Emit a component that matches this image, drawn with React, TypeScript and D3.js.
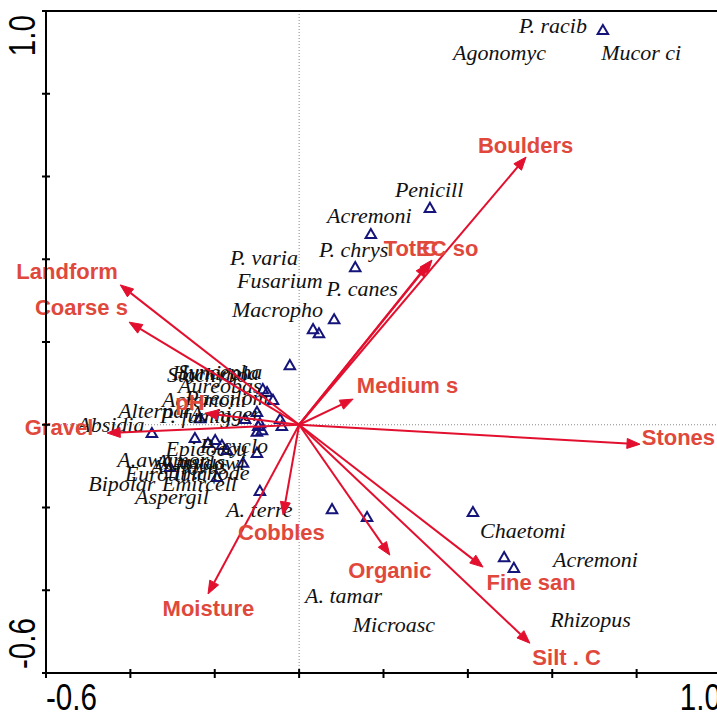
import React from "react";
import * as d3 from "d3";

// ---- Data (CCA biplot scores) ----
const envNames = ["Boulders", "Tot C", "EC so", "Medium s", "Stones", "Fine san", "Silt . C", "Organic", "Cobbles", "Moisture", "Gravel", "pH", "Coarse s", "Landform"];
const envX = [0.538, 0.306, 0.315, 0.128, 0.808, 0.436, 0.547, 0.215, -0.038, -0.216, -0.455, -0.223, -0.403, -0.424];
const envY = [0.647, 0.389, 0.398, 0.062, -0.047, -0.344, -0.528, -0.315, -0.218, -0.409, -0.020, 0.028, 0.248, 0.338];
const envLabelX = [0.537, 0.265, 0.351, 0.257, 0.899, 0.550, 0.634, 0.215, -0.042, -0.215, -0.569, -0.259, -0.516, -0.550];
const envLabelY = [0.676, 0.427, 0.427, 0.096, -0.030, -0.380, -0.561, -0.351, -0.260, -0.443, -0.005, 0.055, 0.285, 0.371];

const speciesX = [0.720, 0.310, 0.170, 0.133, 0.083, 0.033, 0.047, -0.022, 0.412, 0.486, 0.509, 0.078, 0.161, -0.093,
  -0.086, -0.076, -0.062, -0.100, -0.045, -0.093, -0.041, -0.100, -0.235, -0.349, -0.247, -0.216, -0.199, -0.171, -0.133, -0.100, -0.306, -0.195, -0.128, -0.097, -0.183, -0.088];
const speciesY = [0.954, 0.524, 0.461, 0.381, 0.255, 0.231, 0.221, 0.144, -0.211, -0.320, -0.346, -0.204, -0.223, -0.160,
  0.086, 0.079, 0.060, 0.031, 0.014, 0.004, -0.003, -0.017, 0.016, -0.020, -0.032, -0.044, -0.037, -0.061, -0.092, -0.068, -0.102, -0.126, 0.014, -0.003, -0.049, -0.013];

const speciesNames = ["P. racib", "Agonomyc", "Mucor ci", "Penicill", "Acremoni", "P. chrys", "P. varia", "Fusarium", "P. canes", "Macropho",
  "Chaetomi", "Acremoni", "A. tamar", "Microasc", "Rhizopus", "A. terre", "Absidia", "Alternar", "P. fumig", "A. niger",
  "Stachybo", "Humicola", "Syncepha", "Aureobas", "Acremoni", "Paecilom", "A.awamor", "Epicoccu", "P. cyclo", "Eurotium",
  "Trichode", "A. ustus", "A. flavus", "A. sydowi", "Bipolar", "Emircell", "Aspergil"];
const speciesLabelX = [0.521, 0.365, 0.716, 0.227, 0.066, 0.047, -0.164, -0.147, 0.064, -0.159,
  0.429, 0.602, 0.014, 0.127, 0.595, -0.173, -0.526, -0.429, -0.330, -0.259,
  -0.313, -0.301, -0.287, -0.287, -0.325, -0.270, -0.431, -0.317, -0.235, -0.413,
  -0.303, -0.341, -0.353, -0.330, -0.500, -0.325, -0.389];
const speciesLabelY = [0.947, 0.881, 0.881, 0.550, 0.487, 0.405, 0.386, 0.331, 0.311, 0.260,
  -0.274, -0.344, -0.431, -0.501, -0.489, -0.223, -0.018, 0.016, 0.004, 0.009,
  0.103, 0.108, 0.110, 0.077, 0.044, 0.048, -0.101, -0.076, -0.068, -0.137,
  -0.133, -0.106, -0.118, -0.110, -0.161, -0.161, -0.192];

const tickValues = [-0.6, -0.4, -0.2, 0, 0.2, 0.4, 0.6, 0.8, 1.0];
const endTickValues = [-0.6, 1.0];
const endTickLabels = ["-0.6", "1.0"];

const W = 717;
const H = 712;
const ARROW = "#E2102E";
const ENVTXT = "#E0483C";
const TRI = "#14147A";

export default function App() {
  const x = d3.scaleLinear().domain([-0.6, 1.0]).range([46, 721]);
  const y = d3.scaleLinear().domain([-0.6, 1.0]).range([673, 11]);
  const x0 = x(0);
  const y0 = y(0);

  const tri = d3.symbol().type(d3.symbolTriangle).size(48);

  const arrows = envNames.map((n, i) => {
    const tx = x(envX[i]);
    const ty = y(envY[i]);
    const ang = Math.atan2(ty - y0, tx - x0);
    const hl = 13, hw = 5;
    const bx = tx - hl * Math.cos(ang);
    const by = ty - hl * Math.sin(ang);
    const px = -Math.sin(ang), py = Math.cos(ang);
    const head = `M${tx},${ty}L${bx + hw * px},${by + hw * py}L${bx - hw * px},${by - hw * py}Z`;
    return { n, tx, ty, bx, by, head, i };
  });

  return (
    <svg width={W} height={H} style={{ position: "absolute", left: 0, top: 0, background: "#fff" }}>
      <rect x={0} y={0} width={W} height={H} fill="#fff" />
      {/* zero reference lines */}
      <line x1={x0} x2={x0} y1={y(1.0)} y2={y(-0.6)} stroke="#888" strokeWidth={1} strokeDasharray="1,2" />
      <line x1={x(-0.6)} x2={x(1.0)} y1={y0} y2={y0} stroke="#888" strokeWidth={1} strokeDasharray="1,2" />

      {/* species triangles */}
      {speciesX.map((v, i) => (
        <path key={"t" + i} d={tri() as string} transform={`translate(${x(v)},${y(speciesY[i]) + 1})`}
          fill="none" stroke={TRI} strokeWidth={2} />
      ))}

      {/* species labels */}
      {speciesNames.map((n, i) => (
        <text key={"s" + i} x={x(speciesLabelX[i])} y={y(speciesLabelY[i])} fontFamily="'Liberation Serif', 'Times New Roman', serif"
          fontStyle="italic" fontSize={22} fill="#111">{n}</text>
      ))}

      {/* environmental arrows */}
      {arrows.map((a) => (
        <g key={"a" + a.i}>
          <line x1={x0} y1={y0} x2={a.bx} y2={a.by} stroke={ARROW} strokeWidth={2} />
          <path d={a.head} fill={ARROW} stroke={ARROW} strokeWidth={1} />
        </g>
      ))}
      {envNames.map((n, i) => (
        <text key={"e" + i} x={x(envLabelX[i])} y={y(envLabelY[i])} dy="0.36em" textAnchor="middle"
          fontFamily="'Liberation Sans', Arial, sans-serif" fontWeight="bold" fontSize={22} fill={ENVTXT}>{n}</text>
      ))}

      {/* frame */}
      <line x1={x(-0.6)} x2={x(1.0)} y1={y(1.0)} y2={y(1.0)} stroke="#000" strokeWidth={2} />
      <line x1={x(1.0)} x2={x(1.0)} y1={y(1.0)} y2={y(-0.6)} stroke="#000" strokeWidth={2} />
      <line x1={x(-0.6)} x2={x(-0.6)} y1={y(1.0)} y2={y(-0.6)} stroke="#000" strokeWidth={2} />
      <line x1={x(-0.6)} x2={x(1.0)} y1={y(-0.6)} y2={y(-0.6)} stroke="#000" strokeWidth={2} />

      {/* ticks */}
      {tickValues.map((v, i) => (
        <line key={"bx" + i} x1={x(v)} x2={x(v)} y1={y(-0.6) - 4} y2={y(-0.6) + 5} stroke="#000" strokeWidth={2} />
      ))}
      {tickValues.map((v, i) => (
        <line key={"ly" + i} x1={x(-0.6) - 4} x2={x(-0.6) + 4} y1={y(v)} y2={y(v)} stroke="#000" strokeWidth={2} />
      ))}

      {/* tick labels */}
      {endTickValues.map((v, i) => (
        <text key={"xl" + i} transform={`translate(${x(v)},${y(-0.6) + 37}) scale(0.8,1)`}
          textAnchor={i === 0 ? "start" : "end"} fontFamily="'Liberation Sans', Arial, sans-serif" fontSize={37} fill="#000">
          {endTickLabels[i]}
        </text>
      ))}
      {endTickValues.map((v, i) => (
        <text key={"yl" + i} transform={`translate(${x(-0.6) - 11},${i === 0 ? y(v) - 4 : y(v) + 4}) rotate(-90) scale(0.8,1)`}
          textAnchor={i === 0 ? "start" : "end"} fontFamily="'Liberation Sans', Arial, sans-serif" fontSize={37} fill="#000">
          {endTickLabels[i]}
        </text>
      ))}
    </svg>
  );
}
